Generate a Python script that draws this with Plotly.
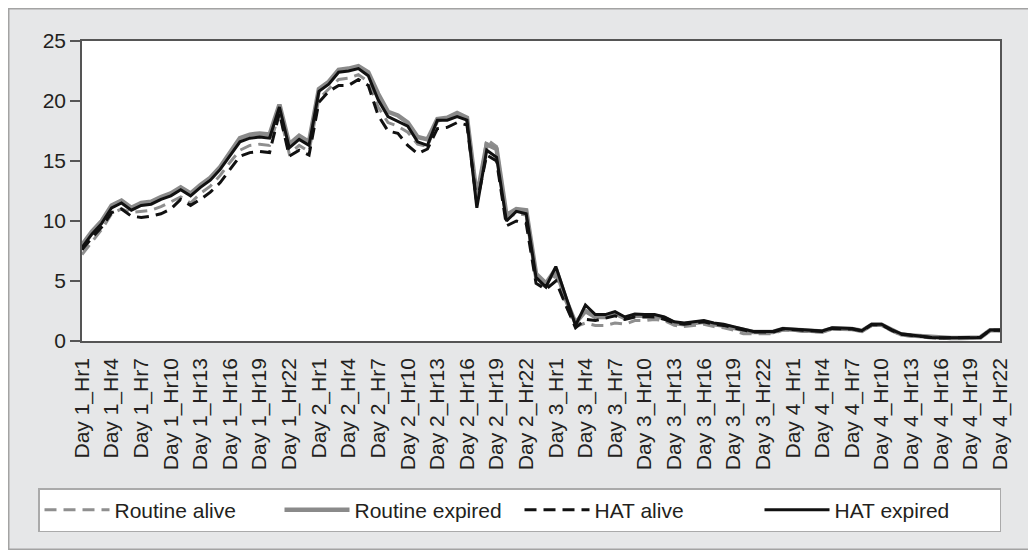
import plotly.graph_objects as go

# categories: Day 1_Hr1 ... Day 4_Hr22
categories = [f"Day {d}_Hr{h}" for d in range(1, 5) for h in range(1, 25)][:94]
tick_labels = categories[::3]

routine_alive = [7.2, 8.3, 9.3, 10.6, 11.0, 10.7, 10.8, 10.9, 11.2, 11.6,
                 12.0, 11.5, 12.3, 12.9, 13.8, 14.9, 15.9, 16.3, 16.4, 16.3,
                 19.0, 15.6, 16.3, 15.8, 20.2, 21.0, 21.8, 21.9, 22.2, 21.6,
                 19.5, 18.2, 17.9, 17.4, 16.4, 16.2, 18.3, 18.6, 19.0, 18.5,
                 11.5, 16.8, 16.2, 10.3, 10.6, 10.5, 5.0, 4.5, 5.5, 3.0,
                 1.2, 1.5, 1.3, 1.3, 1.5, 1.4, 1.7, 1.7, 1.8, 1.7,
                 1.3, 1.2, 1.3, 1.4, 1.2, 1.1, 0.9, 0.6, 0.6, 0.6,
                 0.6, 0.9, 0.9, 0.8, 0.75, 0.75, 1.0, 1.0, 1.0, 0.8,
                 1.3, 1.3, 0.85, 0.5, 0.4, 0.35, 0.25, 0.2, 0.2, 0.2,
                 0.2, 0.25, 0.85, 0.85]
routine_expired = [8.0, 9.1, 10.0, 11.3, 11.7, 11.1, 11.5, 11.6, 12.0, 12.3,
                   12.8, 12.3, 13.0, 13.6, 14.5, 15.7, 16.9, 17.2, 17.3, 17.2,
                   19.7, 16.4, 17.1, 16.6, 21.0, 21.6, 22.6, 22.7, 22.9, 22.4,
                   20.6, 19.1, 18.8, 18.2, 17.0, 16.8, 18.5, 18.6, 19.0, 18.6,
                   12.0, 16.4, 16.0, 10.5, 11.0, 10.9, 5.6, 4.8, 6.0, 3.5,
                   1.5, 2.5, 2.0, 2.0, 2.3, 1.9, 2.1, 2.1, 2.1, 1.9,
                   1.5, 1.4, 1.5, 1.6, 1.4, 1.3, 1.1, 0.9, 0.75, 0.75,
                   0.75, 1.0, 0.95, 0.85, 0.8, 0.8, 1.05, 1.0, 1.0, 0.85,
                   1.35, 1.35, 0.9, 0.55, 0.45, 0.4, 0.3, 0.25, 0.25, 0.25,
                   0.25, 0.3, 0.9, 0.9]
hat_alive = [7.6, 8.6, 9.5, 10.7, 11.0, 10.4, 10.3, 10.4, 10.6, 11.0,
             11.8, 11.3, 11.8, 12.4, 13.2, 14.3, 15.4, 15.7, 15.8, 15.7,
             19.0, 15.4, 15.9, 15.5, 19.9, 20.8, 21.3, 21.3, 21.8, 21.3,
             18.8, 17.5, 17.3, 16.3, 15.6, 16.0, 17.7, 17.8, 18.2, 18.0,
             11.5, 15.5, 15.0, 9.6, 10.0, 9.8, 4.8, 4.3, 5.0, 3.0,
             1.1, 1.8, 1.7, 1.9, 2.1, 1.8, 2.0, 2.0, 2.0, 1.8,
             1.5, 1.4, 1.5, 1.6, 1.4, 1.3, 1.1, 0.9, 0.75, 0.75,
             0.75, 1.0, 0.95, 0.85, 0.8, 0.8, 1.05, 1.0, 1.0, 0.85,
             1.35, 1.35, 0.9, 0.55, 0.45, 0.4, 0.3, 0.25, 0.25, 0.25,
             0.25, 0.3, 0.9, 0.9]
hat_expired = [7.8, 8.9, 9.8, 11.1, 11.5, 10.9, 11.3, 11.4, 11.8, 12.1,
               12.6, 12.1, 12.8, 13.4, 14.3, 15.5, 16.6, 16.9, 17.0, 16.9,
               19.5, 16.1, 16.8, 16.3, 20.8, 21.4, 22.4, 22.5, 22.7, 22.1,
               20.1, 18.7, 18.3, 17.9, 16.6, 16.3, 18.4, 18.4, 18.7, 18.4,
               11.1, 15.9, 15.3, 10.0, 10.8, 10.6, 5.3, 4.5, 6.2, 3.7,
               1.3, 3.0, 2.2, 2.2, 2.45, 2.0, 2.25, 2.2, 2.2, 2.0,
               1.6, 1.5, 1.6, 1.7, 1.5, 1.4, 1.2, 1.0, 0.8, 0.8,
               0.8, 1.05, 1.0, 0.9, 0.85, 0.83, 1.1, 1.05, 1.05, 0.86,
               1.4, 1.4, 0.95, 0.6, 0.5, 0.45, 0.3, 0.28, 0.28, 0.28,
               0.28, 0.3, 0.92, 0.92]

series_names = ["Routine alive", "Routine expired", "HAT alive", "HAT expired"]
series_values = [routine_alive, routine_expired, hat_alive, hat_expired]
series_colors = ["#8f8f8f", "#8a8a8a", "#111111", "#111111"]
series_dash = ["12px,7px", "solid", "12px,7px", "solid"]
series_width = [3, 4.5, 3, 3]

FONT = "Liberation Sans, Arial, sans-serif"
TXT = "#231f20"

fig = go.Figure()
for name, vals, col, dash, w in zip(series_names, series_values, series_colors,
                                    series_dash, series_width):
    fig.add_trace(go.Scatter(x=categories, y=vals, name=name, mode="lines",
                             line=dict(color=col, width=w, dash=dash)))

# page body has an 8px margin; figure occupies the framed region
W, H = 1022, 542
L, R, T, B = 74, 30, 33, 209
pw, ph = W - L - R, H - T - B

fig.update_layout(
    width=W, height=H,
    margin=dict(l=L, r=R, t=T, b=B),
    paper_bgcolor="#e6e7e8",
    plot_bgcolor="#ffffff",
    font=dict(family=FONT, color=TXT, size=21),
    showlegend=True,
    legend=dict(
        orientation="h",
        xref="paper", yref="paper",
        x=(30 - L) / pw, y=(T + ph - 480) / ph, xanchor="left", yanchor="top",
        bgcolor="#ffffff", bordercolor="#aaaaaa", borderwidth=1.5,
        font=dict(size=21, family=FONT, color=TXT),
        entrywidth=160, entrywidthmode="pixels",
        itemwidth=65,
        tracegroupgap=0,
    ),
    shapes=[dict(type="rect", xref="paper", yref="paper",
                 x0=-L / pw, x1=(W - L) / pw, y0=-B / ph, y1=(H - B) / ph,
                 line=dict(color="#a3a3a3", width=3), fillcolor="rgba(0,0,0,0)",
                 layer="below")],
)

fig.update_xaxes(
    type="category",
    categoryorder="array", categoryarray=categories,
    range=[0, len(categories) - 1],
    tickmode="array", tickvals=tick_labels, ticktext=tick_labels,
    tickangle=-90,
    tickfont=dict(size=21, family=FONT, color=TXT),
    ticks="", ticklabelstandoff=7,
    showline=True, linecolor="#555555", linewidth=1.5, mirror=True,
    showgrid=False, zeroline=False,
)
fig.update_yaxes(
    range=[0, 25], dtick=5, tick0=0,
    ticks="outside", ticklen=10, tickcolor="#555555", tickwidth=1.5,
    tickfont=dict(size=21, family=FONT, color=TXT),
    showline=True, linecolor="#555555", linewidth=1.5, mirror=True,
    showgrid=False, zeroline=False,
)

fig.write_html("out.html")
